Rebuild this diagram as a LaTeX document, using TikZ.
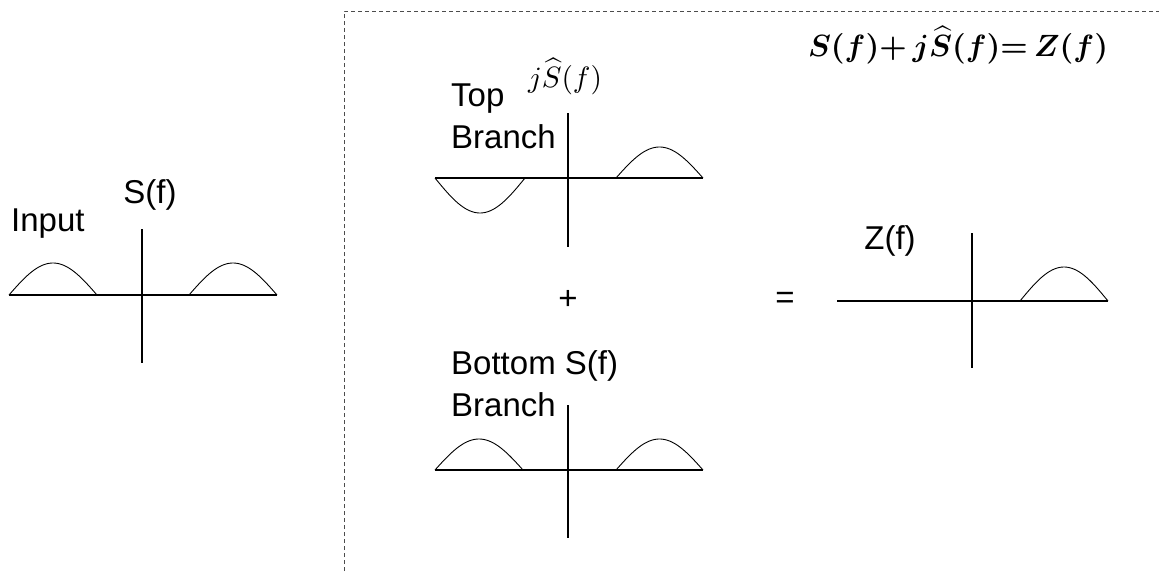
\documentclass[tikz,border=0pt]{standalone}
\usepackage{graphicx}
\usepackage{fontspec}
\setmainfont{Liberation Sans}
\newcommand{\hump}[4]{\draw[humpline] plot[domain=0:180,samples=40,smooth] ({#1+\x*#3/180},{#2-#4*sin(\x)});}
\begin{document}
\begin{tikzpicture}[x=1pt,y=-1pt,
  axis/.style={draw=black,line width=1.1pt},
  humpline/.style={draw=black,line width=0.9pt},
  lbl/.style={inner sep=0pt,anchor=base west,font=\fontsize{33}{38}\selectfont},
  framedash/.style={draw=black!70,line width=0.9pt,dash pattern=on 4pt off 3pt}]
\useasboundingbox (0,0) rectangle (1159,571);
% frame
\coordinate (fb) at (344,571);
\coordinate (ftl) at (344,11);
\coordinate (ftr) at (1159,11);
\draw[framedash] (fb) -- (ftl) -- (ftr);
% Input graph
\coordinate (inL) at (9,295); \coordinate (inR) at (277,295);
\coordinate (inT) at (142,229); \coordinate (inB) at (142,363);
\draw[axis] (inL) -- (inR); \draw[axis] (inT) -- (inB);
\hump{9}{295}{88}{32}
\hump{189}{295}{88}{32}
\node[lbl] (input) at (11,231) {Input};
\node[lbl,anchor=base] (sf) at (150,203) {S(f)};
% Top branch
\coordinate (tL) at (435,178); \coordinate (tR) at (703,178);
\coordinate (tT) at (568,113); \coordinate (tB) at (568,247);
\draw[axis] (tL) -- (tR); \draw[axis] (tT) -- (tB);
\hump{435}{178}{90}{-35}
\hump{616}{178}{87}{31}
\node[lbl] (top) at (451,106) {Top};
\node[lbl] (topb) at (451,148) {Branch};
\node[inner sep=0pt,anchor=base] (jsh) at (565,87) {\resizebox{74pt}{!}{$j\widehat{S}(f)$}};
% plus / equals
\node[lbl,anchor=center] (plus) at (568,300) {+};
\node[lbl,anchor=center] (eq) at (785,300) {=};
% Bottom branch
\coordinate (bL) at (435,470); \coordinate (bR) at (703,470);
\coordinate (bT) at (568,405); \coordinate (bB) at (568,538);
\draw[axis] (bL) -- (bR); \draw[axis] (bT) -- (bB);
\hump{435}{470}{88}{31}
\hump{616}{470}{87}{31}
\node[lbl] (bot) at (451,374) {Bottom S(f)};
\node[lbl] (botb) at (451,416) {Branch};
% Z graph
\coordinate (zL) at (837,301); \coordinate (zR) at (1108,301);
\coordinate (zT) at (972,233); \coordinate (zB) at (972,368);
\draw[axis] (zL) -- (zR); \draw[axis] (zT) -- (zB);
\hump{1020}{301}{88}{34}
\node[lbl,anchor=base] (zf) at (890,249) {Z(f)};
% formula
\node[inner sep=0pt,anchor=center] (eqn) at (958,45) {\resizebox{300pt}{!}{\boldmath$S(f){+}\,j\widehat{S}(f){=}\,Z(f)$}};
\end{tikzpicture}
\end{document}
